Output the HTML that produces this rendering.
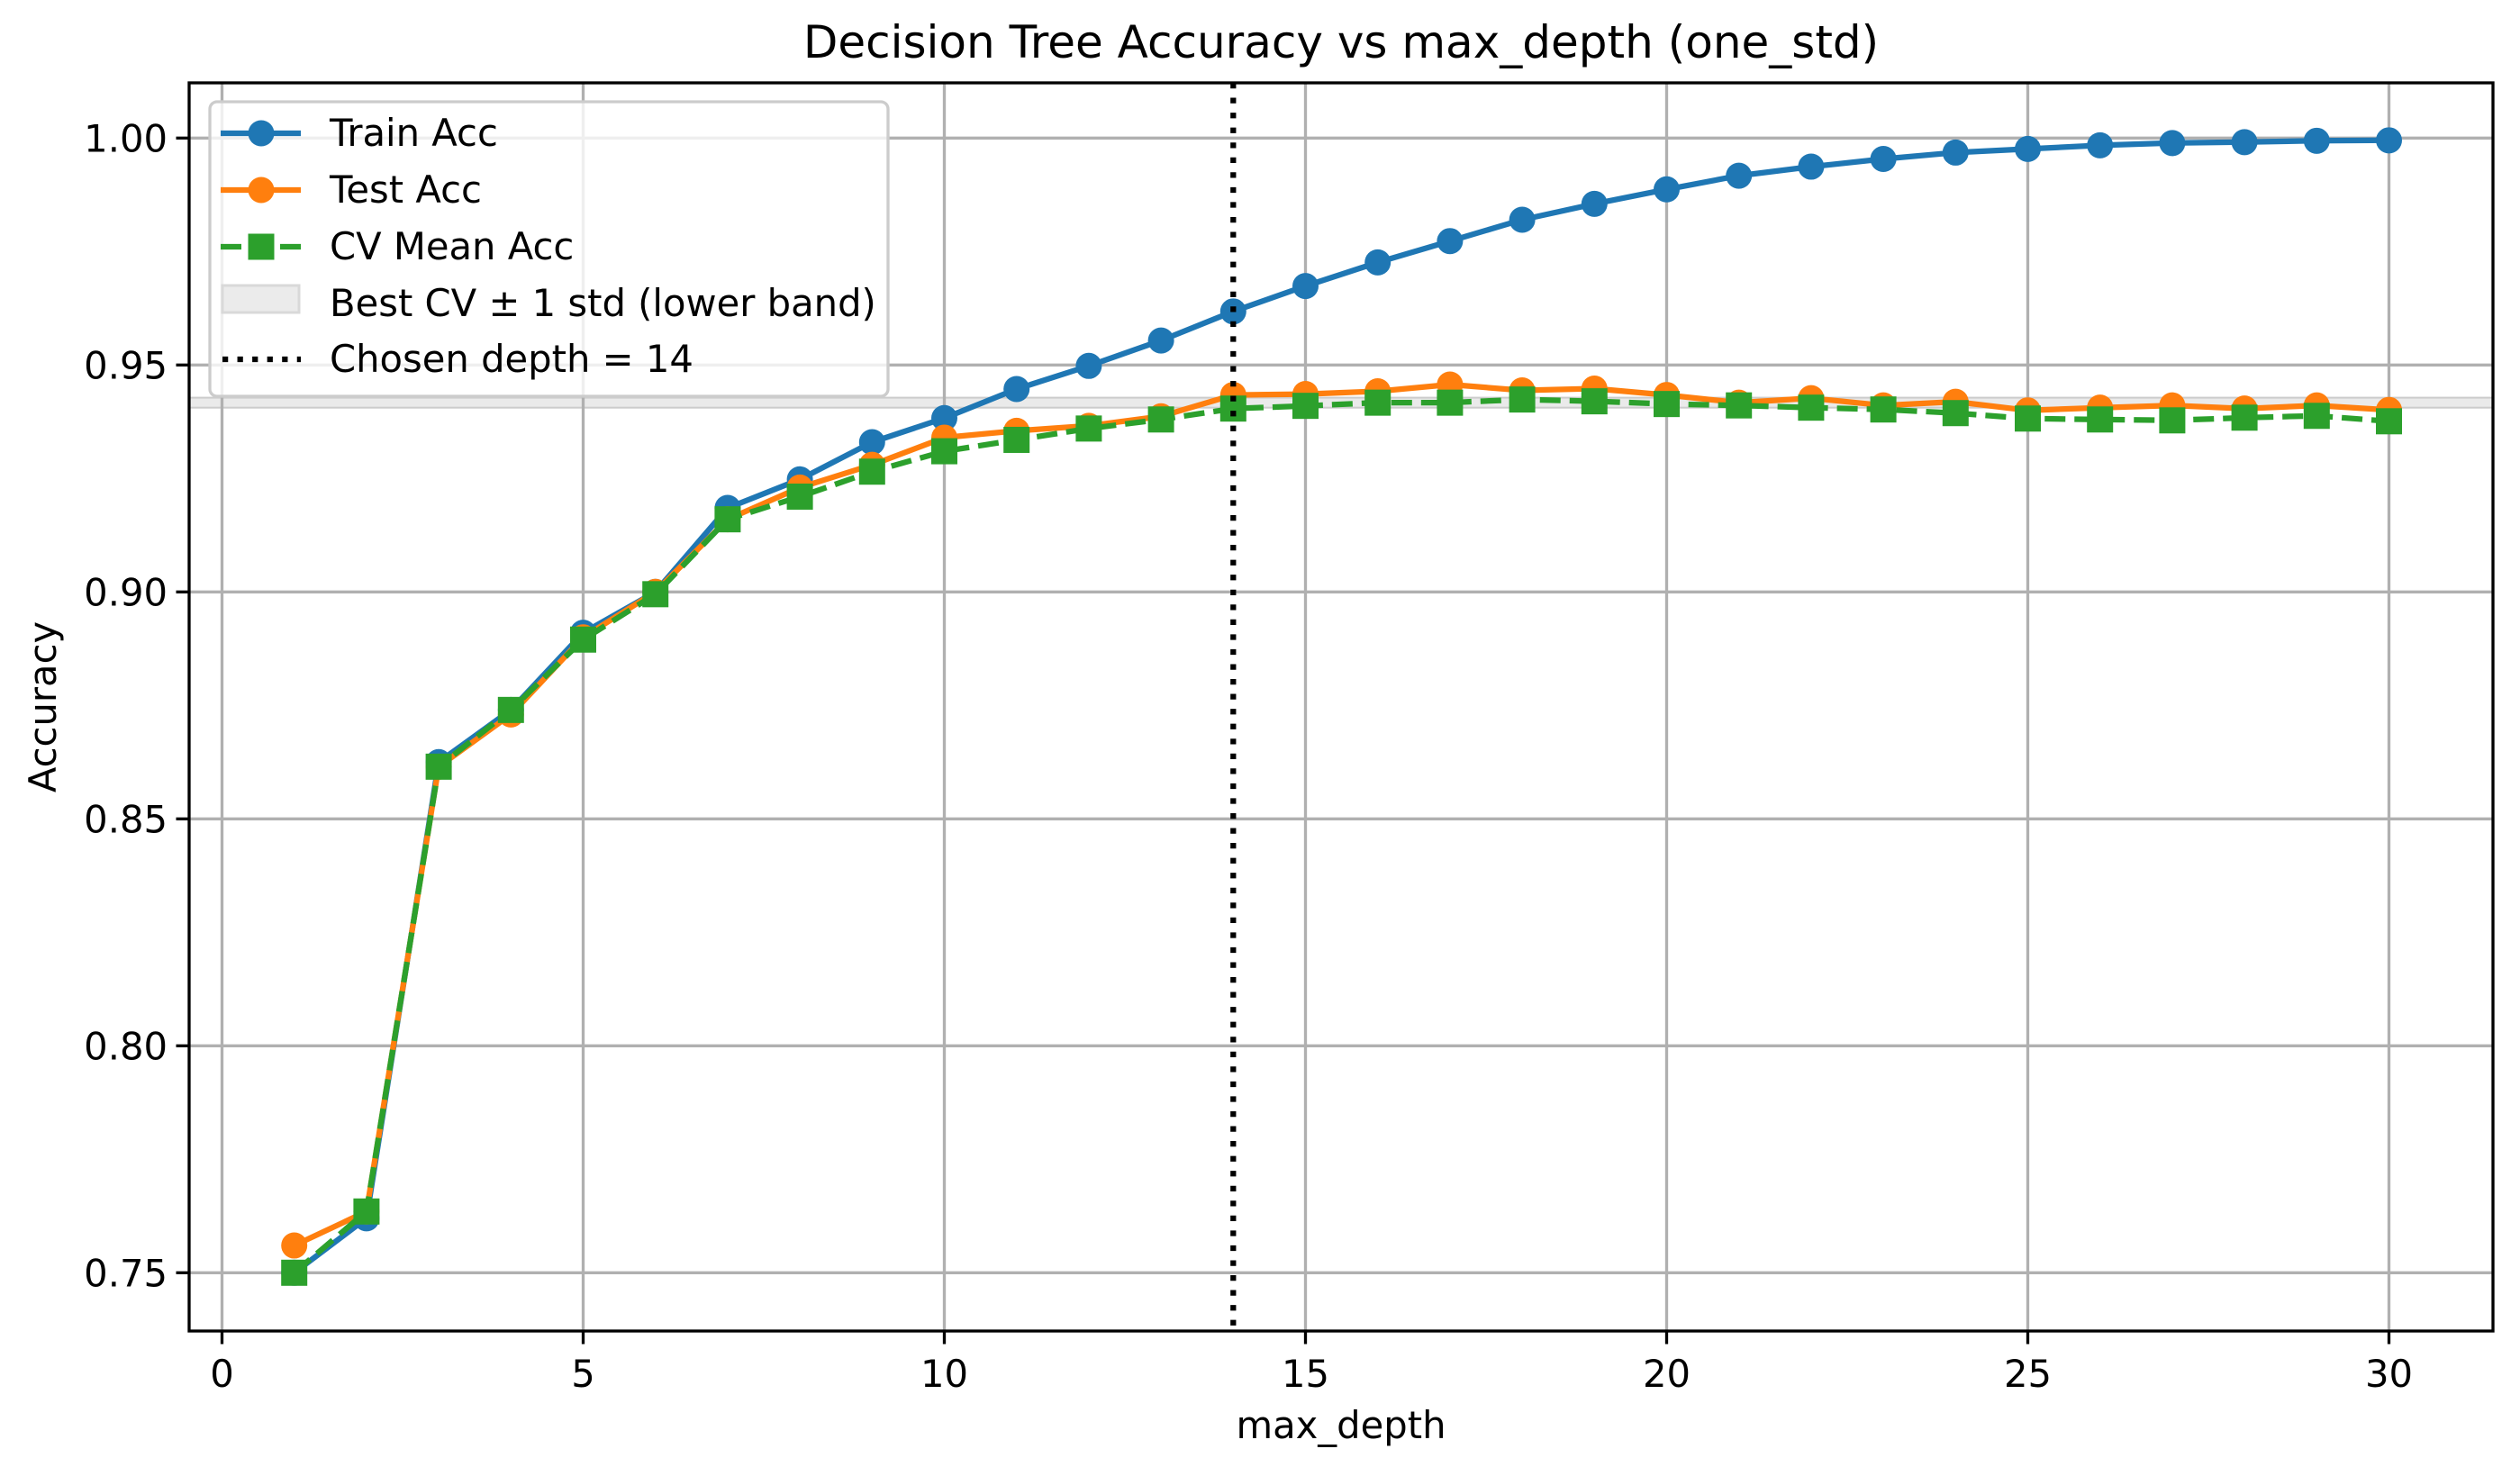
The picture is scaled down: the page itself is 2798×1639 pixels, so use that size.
<!DOCTYPE html>
<html><head><meta charset="utf-8"><style>
html,body{margin:0;padding:0;background:#fff;}
svg{display:block;font-family:"DejaVu Sans","Liberation Sans",sans-serif;}
</style></head><body>
<svg id="chart" width="2798" height="1639" viewBox="0 0 2798 1639" xmlns="http://www.w3.org/2000/svg">
<rect x="0" y="0" width="2798" height="1639" fill="#fff"/>
<g id="plot"></g>
</svg>
<script>
const depths = [1,2,3,4,5,6,7,8,9,10,11,12,13,14,15,16,17,18,19,20,21,22,23,24,25,26,27,28,29,30];
const trainAcc = [0.750,0.762,0.8625,0.874,0.891,0.900,0.9185,0.9248,0.933,0.9383,0.9447,0.9498,0.9554,0.9618,0.9674,0.9726,0.9773,0.982,0.9855,0.9887,0.9917,0.9937,0.9954,0.9968,0.9976,0.9984,0.9989,0.9991,0.9994,0.9995];
const testAcc = [0.756,0.7635,0.8615,0.873,0.890,0.900,0.916,0.923,0.928,0.934,0.9355,0.9366,0.9387,0.9434,0.9436,0.9442,0.9457,0.9444,0.9448,0.9434,0.9417,0.9427,0.9411,0.9419,0.9400,0.9406,0.9411,0.9404,0.9411,0.9401];
const cvAcc = [0.750,0.7635,0.8615,0.874,0.8895,0.8995,0.916,0.921,0.9265,0.931,0.9335,0.936,0.938,0.9404,0.941,0.9417,0.9417,0.9424,0.942,0.9414,0.9411,0.9406,0.9402,0.9394,0.9382,0.9380,0.9378,0.9384,0.9388,0.9376];
const bandRange = [0.9406,0.9428];
const chosenDepth = 14;
const xTicks = [0,5,10,15,20,25,30];
const yTicks = [0.75,0.80,0.85,0.90,0.95,1.00];
const yTickLabels = ["0.75","0.80","0.85","0.90","0.95","1.00"];

const L=210, R=2768, T=92, B=1478;
const MR=14.5;
function sx(v){return 246.5 + v*80.2;}
function sy(v){return 153.3 + (1.0 - v)/0.05*252;}
const NS="http://www.w3.org/2000/svg";
const g=document.getElementById('plot');
function mk(tag,attrs,parent){const e=document.createElementNS(NS,tag);for(const k in attrs)e.setAttribute(k,attrs[k]);(parent||g).appendChild(e);return e;}

const band=mk('rect',{x:L,y:sy(bandRange[1]),width:R-L,height:sy(bandRange[0])-sy(bandRange[1]),fill:'#d9d9d9','fill-opacity':0.55,stroke:'#cccccc','stroke-width':2});



xTicks.forEach(t=>{
  const l=mk('line',{x1:sx(t),x2:sx(t),y1:T,y2:B,stroke:'#b0b0b0','stroke-width':3.3});
  
  
  const tk=mk('line',{x1:sx(t),x2:sx(t),y1:B,y2:B+14.5,stroke:'#000','stroke-width':3.3});
  
  
  const tx=mk('text',{x:sx(t),y:B+62,'text-anchor':'middle','font-size':41.7,fill:'#000'});
  tx.textContent=String(t);
  
  
});
yTicks.forEach((t,i)=>{
  const l=mk('line',{x1:L,x2:R,y1:sy(t),y2:sy(t),stroke:'#b0b0b0','stroke-width':3.3});
  
  
  const tk=mk('line',{x1:L-14.5,x2:L,y1:sy(t),y2:sy(t),stroke:'#000','stroke-width':3.3});
  
  
  const tx=mk('text',{x:L-24,y:sy(t)+15,'text-anchor':'end','font-size':41.7,fill:'#000'});
  tx.textContent=yTickLabels[i];
  
  
});

function series(vals,color,dash,marker,name){
  const pts=depths.map((d,i)=>sx(d).toFixed(1)+','+sy(vals[i]).toFixed(1)).join(' ');
  const pl=mk('polyline',{points:pts,fill:'none',stroke:color,'stroke-width':6.25,'stroke-dasharray':dash||'none','stroke-linejoin':'round'});
  
  
  depths.forEach((d,i)=>{
    let m;
    if(marker==='o') m=mk('circle',{cx:sx(d),cy:sy(vals[i]),r:MR,fill:color});
    else m=mk('rect',{x:sx(d)-MR,y:sy(vals[i])-MR,width:2*MR,height:2*MR,fill:color});
    
    
  });
}
series(trainAcc,'#1f77b4',null,'o','train-acc');
series(testAcc,'#ff7f0e',null,'o','test-acc');
series(cvAcc,'#2ca02c','23,10','s','cv-mean-acc');

const vl=mk('line',{x1:sx(chosenDepth),x2:sx(chosenDepth),y1:T,y2:B,stroke:'#000','stroke-width':6.25,'stroke-dasharray':'6.25,10.3'});



const sp=mk('rect',{x:L,y:T,width:R-L,height:B-T,fill:'none',stroke:'#000','stroke-width':3.3});



const lg=mk('g',{});


mk('rect',{x:233,y:113,width:753,height:327,rx:8,fill:'#fff','fill-opacity':0.8,stroke:'#cccccc','stroke-width':3.3},lg);
const entries=[
 {label:'Train Acc',color:'#1f77b4',type:'o',name:'legend-train'},
 {label:'Test Acc',color:'#ff7f0e',type:'o',name:'legend-test'},
 {label:'CV Mean Acc',color:'#2ca02c',type:'s',name:'legend-cv'},
 {label:'Best CV \u00b1 1 std (lower band)',color:'#ddd',type:'band',name:'legend-band'},
 {label:'Chosen depth = 14',color:'#000',type:'dot',name:'legend-chosen'}];
const ey=[148,211,274,337,399];
entries.forEach((e,i)=>{
  const eg=mk('g',{},lg);
  
  
  const y=ey[i];
  if(e.type==='o'){mk('line',{x1:245,x2:334,y1:y,y2:y,stroke:e.color,'stroke-width':6.25},eg);mk('circle',{cx:290,cy:y,r:MR,fill:e.color},eg);}
  if(e.type==='s'){mk('line',{x1:245,x2:334,y1:y,y2:y,stroke:e.color,'stroke-width':6.25,'stroke-dasharray':'23,10'},eg);mk('rect',{x:290-MR,y:y-MR,width:2*MR,height:2*MR,fill:e.color},eg);}
  if(e.type==='band'){mk('rect',{x:247,y:y-20,width:85,height:30,fill:'#ebebeb',stroke:'#d9d9d9','stroke-width':3},eg);}
  if(e.type==='dot'){mk('line',{x1:247,x2:334,y1:y,y2:y,stroke:'#000','stroke-width':6.25,'stroke-dasharray':'6.25,10.3'},eg);}
  const t=mk('text',{x:366,y:y+14,'font-size':41.7,fill:'#000'},eg);
  t.textContent=e.label;
});

const title=mk('text',{x:(L+R)/2,y:64,'text-anchor':'middle','font-size':50,fill:'#000'});
title.textContent='Decision Tree Accuracy vs max_depth (one_std)';


const xl=mk('text',{x:(L+R)/2,y:1597,'text-anchor':'middle','font-size':41.7,fill:'#000'});
xl.textContent='max_depth';


const yl=mk('text',{x:0,y:0,'text-anchor':'middle','font-size':41.7,fill:'#000',transform:'translate(62,785) rotate(-90)'});
yl.textContent='Accuracy';


</script>
</body></html>
